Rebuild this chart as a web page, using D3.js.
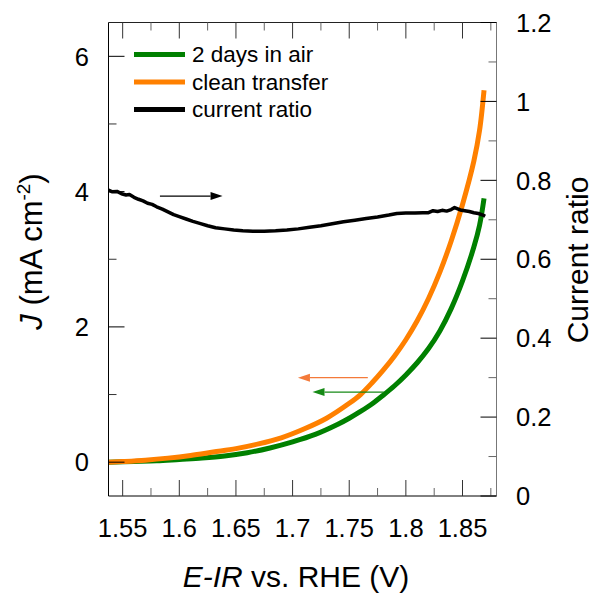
<!DOCTYPE html>
<html>
<head>
<meta charset="utf-8">
<script src="https://cdn.jsdelivr.net/npm/d3@7"></script>
<style>
  body { margin: 0; background: #fff; }
  svg { display: block; font-family: Arial, "Liberation Sans", sans-serif; }
</style>
</head>
<body>
<div id="chart"></div>
<script>
var width = 595, height = 594;
var margin = { top: 22.5, right: 98.5, bottom: 98, left: 108.5 };

// potential (V vs RHE)
var potAir = [1.5375, 1.56, 1.58, 1.60, 1.62, 1.64, 1.66, 1.68, 1.70, 1.72, 1.74, 1.75, 1.76, 1.77, 1.78, 1.79, 1.80, 1.81, 1.82, 1.83, 1.84, 1.85, 1.86, 1.865, 1.869];
var jAir = [0.00, 0.01, 0.02, 0.04, 0.06, 0.09, 0.14, 0.21, 0.30, 0.41, 0.56, 0.65, 0.75, 0.86, 0.99, 1.13, 1.29, 1.47, 1.68, 1.94, 2.27, 2.68, 3.18, 3.50, 3.90];

var potClean = [1.5375, 1.55, 1.57, 1.59, 1.61, 1.63, 1.65, 1.67, 1.69, 1.71, 1.73, 1.75, 1.76, 1.77, 1.78, 1.79, 1.80, 1.81, 1.82, 1.83, 1.84, 1.85, 1.86, 1.865, 1.869];
var jClean = [0.00, 0.01, 0.03, 0.06, 0.10, 0.15, 0.20, 0.27, 0.36, 0.49, 0.65, 0.87, 1.00, 1.17, 1.36, 1.57, 1.81, 2.09, 2.42, 2.81, 3.27, 3.81, 4.45, 4.90, 5.50];

var potRatio = [1.5375, 1.541, 1.545, 1.549, 1.553, 1.556, 1.560, 1.564, 1.568, 1.572, 1.576, 1.580, 1.585, 1.590, 1.595, 1.600, 1.606, 1.612, 1.618, 1.625, 1.632, 1.640, 1.648, 1.656, 1.665, 1.675, 1.685, 1.695, 1.705, 1.715, 1.725, 1.735, 1.745, 1.755, 1.765, 1.775, 1.785, 1.792, 1.800, 1.808, 1.815, 1.820, 1.824, 1.828, 1.832, 1.836, 1.840, 1.843, 1.848, 1.852, 1.856, 1.860, 1.864, 1.868, 1.870];
var ratio = [0.775, 0.771, 0.772, 0.766, 0.763, 0.764, 0.757, 0.752, 0.748, 0.742, 0.739, 0.733, 0.727, 0.720, 0.713, 0.708, 0.702, 0.696, 0.691, 0.685, 0.680, 0.677, 0.674, 0.672, 0.671, 0.671, 0.672, 0.674, 0.677, 0.681, 0.685, 0.690, 0.695, 0.699, 0.703, 0.707, 0.712, 0.716, 0.717, 0.717, 0.718, 0.718, 0.723, 0.721, 0.724, 0.722, 0.726, 0.731, 0.725, 0.723, 0.721, 0.718, 0.716, 0.712, 0.709];

var xTicks = [1.55, 1.6, 1.65, 1.7, 1.75, 1.8, 1.85];
var xMinor = [1.575, 1.625, 1.675, 1.725, 1.775, 1.825, 1.875];
var yTicks = [0, 2, 4, 6];
var yMinor = [1, 3, 5];
var rTicks = [0, 0.2, 0.4, 0.6, 0.8, 1, 1.2];
var rMinor = [0.1, 0.3, 0.5, 0.7, 0.9, 1.1];

var legendNames = ["2 days in air", "clean transfer", "current ratio"];
var colors = ["#008000", "#ff8000", "#000000"];

var svg = d3.select("#chart").append("svg")
    .attr("width", width)
    .attr("height", height);

var x = d3.scaleLinear().domain([1.5375, 1.88]).range([margin.left, width - margin.right]);
var y = d3.scaleLinear().domain([-0.5, 6.5]).range([height - margin.bottom, margin.top]);
var yr = d3.scaleLinear().domain([0, 1.2]).range([height - margin.bottom, margin.top]);

var x0 = margin.left, x1 = width - margin.right, y0 = margin.top, y1 = height - margin.bottom;

svg.append("clipPath").attr("id", "clip")
  .append("rect").attr("x", x0).attr("y", y0).attr("width", x1 - x0).attr("height", y1 - y0);

// curves
var lineJ = d3.line().x(d => x(d[0])).y(d => y(d[1])).curve(d3.curveCatmullRom);
var lineR = d3.line().x(d => x(d[0])).y(d => yr(d[1]));

var g = svg.append("g").attr("clip-path", "url(#clip)");
g.append("path").datum(d3.zip(potAir, jAir))
    .attr("d", lineJ).attr("fill", "none").attr("stroke", colors[0]).attr("stroke-width", 5);
g.append("path").datum(d3.zip(potClean, jClean))
    .attr("d", lineJ).attr("fill", "none").attr("stroke", colors[1]).attr("stroke-width", 5);
g.append("path").datum(d3.zip(potRatio, ratio))
    .attr("d", lineR).attr("fill", "none").attr("stroke", colors[2]).attr("stroke-width", 3.5)
    .attr("stroke-linejoin", "round");

// arrows (in data units)
function arrow(xa, xb, yv, sc, color, w) {
  var ya = sc(yv), pa = x(xa), pb = x(xb);
  var dir = pb > pa ? 1 : -1, hl = 12, hw = 4;
  svg.append("line").attr("x1", pa).attr("x2", pb - dir * hl).attr("y1", ya).attr("y2", ya)
      .attr("stroke", color).attr("stroke-width", w);
  svg.append("path")
      .attr("d", "M" + pb + "," + ya + "L" + (pb - dir * hl) + "," + (ya - hw) + "L" + (pb - dir * hl) + "," + (ya + hw) + "Z")
      .attr("fill", color);
}
arrow(1.5829, 1.6382, 0.760, yr, "#000", 1.3);
arrow(1.7664, 1.7047, 1.25, y, "#f47a3a", 1.3);
arrow(1.7805, 1.7176, 1.037, y, "#168a16", 1.3);

// frame
svg.append("line").attr("x1", x0).attr("x2", x1).attr("y1", y0).attr("y2", y0).attr("stroke", "#222");
svg.append("line").attr("x1", x0).attr("x2", x1).attr("y1", y1).attr("y2", y1).attr("stroke", "#000");
svg.append("line").attr("x1", x0).attr("x2", x0).attr("y1", y0).attr("y2", y1).attr("stroke", "#000");
svg.append("line").attr("x1", x1).attr("x2", x1).attr("y1", y0).attr("y2", y1).attr("stroke", "#777");

// ticks (inward)
function ticks(vals, len, color) {
  vals.forEach(function (v) {
    svg.append("line").attr("x1", x(v)).attr("x2", x(v)).attr("y1", y1).attr("y2", y1 - len).attr("stroke", color);
    svg.append("line").attr("x1", x(v)).attr("x2", x(v)).attr("y1", y0).attr("y2", y0 + len).attr("stroke", color);
  });
}
ticks(xTicks, 16, "#333");
ticks(xMinor, 8, "#666");
yTicks.forEach(v => svg.append("line").attr("x1", x0).attr("x2", x0 + 16).attr("y1", y(v)).attr("y2", y(v)).attr("stroke", "#000"));
yMinor.forEach(v => svg.append("line").attr("x1", x0).attr("x2", x0 + 8).attr("y1", y(v)).attr("y2", y(v)).attr("stroke", "#333"));
rTicks.forEach(v => svg.append("line").attr("x1", x1).attr("x2", x1 - 16).attr("y1", yr(v)).attr("y2", yr(v)).attr("stroke", "#000"));
rMinor.forEach(v => svg.append("line").attr("x1", x1).attr("x2", x1 - 8).attr("y1", yr(v)).attr("y2", yr(v)).attr("stroke", "#666"));

// tick labels
svg.selectAll(".xl").data(xTicks).enter().append("text")
    .attr("x", d => x(d)).attr("y", 537).attr("text-anchor", "middle")
    .attr("font-size", 25.5).text(d => d);
svg.selectAll(".yl").data(yTicks).enter().append("text")
    .attr("x", 89).attr("y", d => y(d)).attr("dy", "0.36em").attr("text-anchor", "end")
    .attr("font-size", 25.5).text(d => d);
svg.selectAll(".rl").data(rTicks).enter().append("text")
    .attr("x", 516).attr("y", d => yr(d)).attr("dy", "0.36em").attr("text-anchor", "start")
    .attr("font-size", 25.5).text(d => d);

// axis titles
var xt = svg.append("text").attr("x", 296).attr("y", 587).attr("text-anchor", "middle").attr("font-size", 30);
xt.append("tspan").attr("font-style", "italic").text("E-IR");
xt.append("tspan").text(" vs. RHE (V)");

var ytl = svg.append("text").attr("transform", "translate(42,251.5) rotate(-90)")
    .attr("text-anchor", "middle").attr("font-size", 31);
ytl.append("tspan").attr("font-style", "italic").text("J");
ytl.append("tspan").text(" (mA cm");
ytl.append("tspan").attr("font-size", 19).attr("dy", -12).text("-2");
ytl.append("tspan").attr("dy", 12).text(")");

svg.append("text").attr("transform", "translate(588,260) rotate(-90)")
    .attr("text-anchor", "middle").attr("font-size", 30).text("Current ratio");

// legend
var legY = [54.5, 82, 109.5];
legendNames.forEach(function (name, i) {
  svg.append("line").attr("x1", 134).attr("x2", 185).attr("y1", legY[i]).attr("y2", legY[i])
      .attr("stroke", colors[i]).attr("stroke-width", 5);
  svg.append("text").attr("x", 192).attr("y", legY[i]).attr("dy", "0.35em")
      .attr("font-size", 22.5).text(name);
});
</script>
</body>
</html>
